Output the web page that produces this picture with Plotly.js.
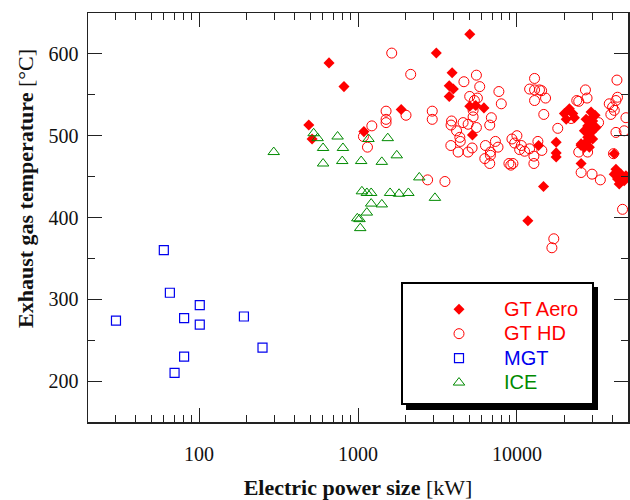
<!DOCTYPE html>
<html>
<head>
<meta charset="utf-8">
<script src="https://cdn.plot.ly/plotly-3.0.1.min.js"></script>
<style>html,body{margin:0;padding:0;background:#fff;}#chart{width:630px;height:500px;}</style>
</head>
<body>
<div id="chart"></div>
<script>
// ---- data ----
var seriesNames = ["GT Aero", "GT HD", "MGT", "ICE"];

var gtAeroX = [490, 514, 657, 816, 1089, 1870, 3110, 5050, 3910, 3750, 3980, 3750, 5050, 5500, 6200, 5250,
  13680, 17660, 17660, 17660, 14700, 11720, 21380, 19900, 22450, 20420, 23000, 29280, 27230, 29960, 27880,
  31470, 26580, 29280, 27880, 29960, 27230, 25350, 28560, 25350, 26580, 25350, 40960, 41990, 40960, 45130,
  42950, 47330, 44040, 48540, 31000, 30000];
var gtAeroY = [513, 496, 589, 560, 505, 532, 601, 624, 577, 561, 557, 548, 536, 537, 534, 501,
  488, 492, 479, 474, 438, 396, 533, 527, 527, 520, 522, 529, 520, 518, 512,
  510, 506, 504, 498, 496, 492, 488, 486, 490, 486, 466, 478, 459, 453, 453,
  447, 445, 441, 451, 525, 523];

var gtHdX = [1630, 2146, 1502, 1502, 1502, 2005, 1222, 1082, 1147, 2932, 2932, 2742, 3524, 4640, 5560, 5834,
  7700, 7975, 5046, 5640, 5300, 5300, 5560, 6905, 6745, 3880, 3850, 4170, 4585, 4930, 4373, 4400, 3838,
  4266, 4930, 5224, 6339, 7322, 7602, 6812, 6812, 6281, 6745, 9304, 10000, 10660, 10400, 11170, 12020,
  13550, 14350, 12790, 12790, 8906, 9438, 9150, 9680, 12910, 12020, 12910, 13870, 14300, 12910, 15140,
  14760, 18070, 24490, 26990, 27630, 21930, 32650, 24490, 27860, 25350, 29700, 33490, 42600, 38100, 41000,
  40000, 42000, 42960, 39000, 48540, 47330, 41990, 46190, 17060, 16600, 40500, 23800, 5400];
var gtHdY = [601, 575, 530, 520, 516, 525, 512, 499, 486, 530, 520, 446, 444, 566, 574, 560,
  554, 539, 548, 546, 531, 523, 510, 522, 513, 518, 513, 506, 516, 514, 498, 493, 488,
  480, 480, 485, 488, 493, 486, 480, 476, 472, 466, 496, 500, 488, 483, 481, 484,
  493, 482, 475, 466, 466, 466, 464, 491, 570, 557, 556, 556, 555, 543, 546,
  526, 509, 542, 556, 546, 521, 516, 480, 480, 455, 453, 446, 568, 539, 531,
  535, 543, 547, 526, 522, 506, 504, 410, 374, 363, 478, 543, 543];

var mgtX = [30, 60, 65.5, 80.5, 101, 101, 191.5, 250.7, 80.5, 70.1];
var mgtY = [274, 360, 308, 277, 293, 269, 279, 241, 230, 210];

var iceX = [295, 526, 557, 603, 603, 744, 804, 796, 1047, 1164, 1539, 1412, 1754, 2430, 3049, 1058, 1137,
  1210, 1592, 1813, 2074, 1210, 1412, 1137, 1022, 990, 1033];
var iceY = [480, 503, 497, 485, 466, 499, 485, 469, 469, 496, 497, 468, 476, 449, 424, 432, 430,
  430, 430, 429, 430, 417, 416, 406, 398, 399, 387];

var xTickVals = [100, 1000, 10000];
var xTickText = ["100", "1000", "10000"];
var yTickVals = [200, 300, 400, 500, 600];

// ---- helpers ----
var W = 630, H = 500, ML = 88, MR = 2, MT = 13, MB = 78;
var PW = W - ML - MR, PH = H - MT - MB;
function px2x(p) { return (p - ML) / PW; }
function py2y(p) { return (H - MB - p) / PH; }

var minorX = [];
for (var e = 1; e <= 4; e++) for (var m = 2; m <= 9; m++) minorX.push(m * Math.pow(10, e));

var red = "#ff0000", blue = "#0000ee", green = "#008a00";
function nm(t, c) { return '<span style="color:' + c + ';font-size:20px">' + t + '</span>'; }

var traces = [
  { x: gtAeroX, y: gtAeroY, type: "scatter", mode: "markers", name: nm(seriesNames[0], red),
    marker: { symbol: "diamond", size: 8.5, color: red, line: { width: 0 } } },
  { x: gtHdX, y: gtHdY, type: "scatter", mode: "markers", name: nm(seriesNames[1], red),
    marker: { symbol: "circle-open", size: 10, color: red, line: { width: 1 } } },
  { x: mgtX, y: mgtY, type: "scatter", mode: "markers", name: nm(seriesNames[2], blue),
    marker: { symbol: "square-open", size: 9, color: blue, line: { width: 1.2 } } },
  { x: iceX, y: iceY, type: "scatter", mode: "markers", name: nm(seriesNames[3], green),
    marker: { symbol: "triangle-up-open", size: 10, color: green, line: { width: 1 } } }
];

var axisCommon = {
  showline: true, linecolor: "#222", linewidth: 1.5, mirror: "ticks",
  ticks: "inside", ticklen: 14, tickwidth: 1, tickcolor: "#222",
  showgrid: false, zeroline: false,
  tickfont: { family: "Liberation Serif", size: 20, color: "#111" }
};

var layout = {
  width: W, height: H,
  margin: { l: ML, r: MR, t: MT, b: MB, pad: 0 },
  paper_bgcolor: "#fff", plot_bgcolor: "#fff",
  showlegend: true,
  xaxis: Object.assign({}, axisCommon, {
    type: "log", range: [Math.log10(20), Math.log10(50000)],
    tickmode: "array", tickvals: xTickVals, ticktext: xTickText,
    ticklabelstandoff: 13,
    minor: { tickmode: "array", tickvals: minorX, ticks: "inside", ticklen: 7, tickwidth: 1, tickcolor: "#222", showgrid: false },
    title: { text: "<b>Electric power size</b> [kW]", font: { family: "Liberation Serif", size: 22, color: "#111" }, standoff: 20 }
  }),
  yaxis: Object.assign({}, axisCommon, {
    range: [150, 650],
    tickmode: "array", tickvals: yTickVals,
    ticklabelstandoff: 4,
    minor: { dtick: 50, ticks: "inside", ticklen: 7, tickwidth: 1, tickcolor: "#222", showgrid: false }
  }),
  legend: {
    x: px2x(414), y: py2y(292), xanchor: "left", yanchor: "top",
    bgcolor: "rgba(0,0,0,0)", borderwidth: 0,
    font: { family: "Liberation Sans", size: 16.5 },
    itemwidth: 80
  },
  annotations: [
    { xref: "paper", yref: "paper", x: px2x(25), y: py2y(189), xanchor: "center", yanchor: "middle",
      textangle: -90, showarrow: false,
      text: "<b>Exhaust gas temperature</b> [°C]",
      font: { family: "Liberation Serif", size: 22, color: "#111" } }
  ],
  shapes: [
    { type: "rect", xref: "paper", yref: "paper", layer: "above",
      x0: px2x(406), x1: px2x(598), y0: py2y(410), y1: py2y(287),
      fillcolor: "#000", line: { width: 0 } },
    { type: "rect", xref: "paper", yref: "paper", layer: "above",
      x0: px2x(402), x1: px2x(593), y0: py2y(404), y1: py2y(283),
      fillcolor: "#fff", line: { color: "#000", width: 2 } }
  ]
};

Plotly.newPlot("chart", traces, layout, { staticPlot: true, displayModeBar: false });
</script>
</body>
</html>
